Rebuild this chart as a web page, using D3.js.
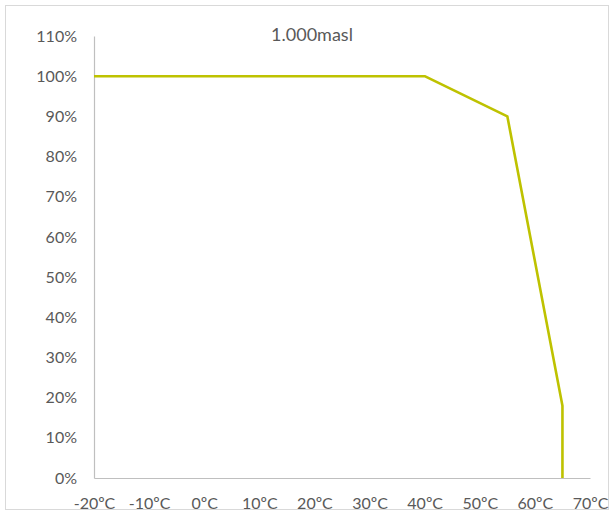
<!DOCTYPE html>
<html><head><meta charset="utf-8">
<script src="https://cdn.jsdelivr.net/npm/d3@7"></script>
<style>body{margin:0;background:#fff}</style>
</head><body>
<svg id="c" width="614" height="515"></svg>
<script>
const title = "1.000masl";
const temps = [-20, 40, 55, 65, 65];
const percents = [100, 100, 90, 18, 0];
const xTicks = [-20, -10, 0, 10, 20, 30, 40, 50, 60, 70];
const yTicks = [0, 10, 20, 30, 40, 50, 60, 70, 80, 90, 100, 110];

const svg = d3.select("#c");
const font = "Lato, 'Open Sans', sans-serif";
svg.append("rect").attr("x", 5.5).attr("y", 5.5).attr("width", 603).attr("height", 504)
  .attr("fill", "#fff").attr("stroke", "#d9d9d9").attr("stroke-width", 1);

const x = d3.scaleLinear().domain([-20, 70]).range([94, 590]);
const y = d3.scaleLinear().domain([0, 110]).range([478, 36]);

const xAxis = svg.append("g").attr("transform", "translate(0,478)")
  .call(d3.axisBottom(x).tickValues(xTicks).tickSize(0).tickPadding(20).tickFormat(d => d + "ºC"));
const yAxis = svg.append("g").attr("transform", "translate(94,0)")
  .call(d3.axisLeft(y).tickValues(yTicks).tickSize(0).tickPadding(17).tickFormat(d => d + "%"));
[xAxis, yAxis].forEach(a => {
  a.select(".domain").attr("stroke", "#bfbfbf").attr("stroke-width", 1.2);
  a.selectAll("text").attr("fill", "#595959").style("font-family", font).style("font-size", "16px");
});

const pts = temps.map((t, i) => [t, percents[i]]);
svg.append("path").datum(pts)
  .attr("fill", "none").attr("stroke", "#bec200").attr("stroke-width", 2.6)
  .attr("stroke-linejoin", "round")
  .attr("d", d3.line().x(d => x(d[0])).y(d => y(d[1])));

svg.append("text").attr("x", 312).attr("y", 41).attr("text-anchor", "middle")
  .attr("fill", "#595959").style("font-family", font).style("font-size", "18px").text(title);
</script>
</body></html>
